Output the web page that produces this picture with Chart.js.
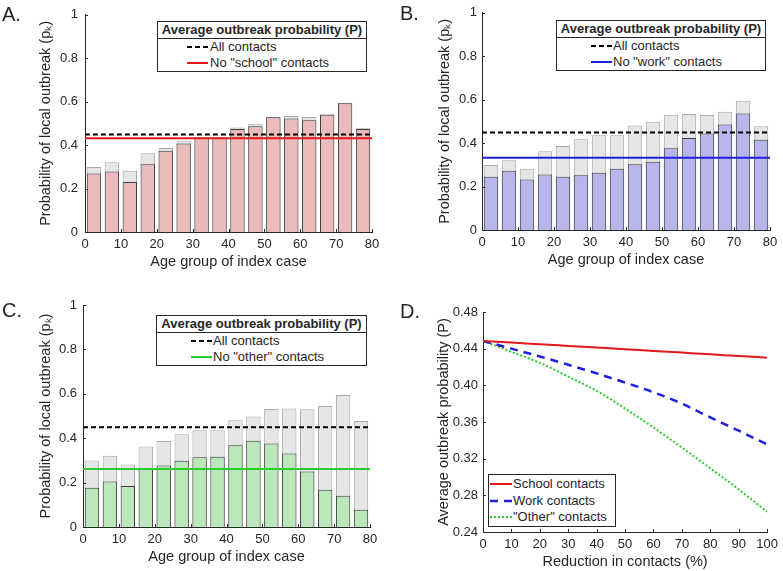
<!DOCTYPE html>
<html>
<head>
<meta charset="utf-8">
<script src="https://cdn.jsdelivr.net/npm/chart.js@4.4.0/dist/chart.umd.min.js"></script>
<style>
  body { margin: 0; background: #fff; font-family: "Liberation Sans", Arial, Helvetica, sans-serif; color: #262626; }
  #fig { position: relative; width: 783px; height: 571px; overflow: hidden; }
  #fig canvas { position: absolute; }
  .tag { position: absolute; font-size: 20px; line-height: 20px; }
  .lg { position: absolute; border: 1px solid #262626; background: #fff; font-size: 13px; box-sizing: border-box; }
  .lg .ttl { font-weight: bold; text-align: center; line-height: 16px; border-bottom: 1px solid #262626; }
  .lg .row { position: relative; height: 16px; line-height: 16px; white-space: nowrap; }
  .lg svg { position: absolute; top: 0; }
</style>
</head>
<body>
<div id="fig">
  <canvas id="chart-a" width="390" height="285" style="left:0;top:0"></canvas>
  <canvas id="chart-b" width="391" height="285" style="left:392px;top:0"></canvas>
  <canvas id="chart-c" width="390" height="286" style="left:0;top:285px"></canvas>
  <canvas id="chart-d" width="391" height="286" style="left:392px;top:285px"></canvas>

  <div class="tag" style="left:2px;top:4px">A.</div>
  <div class="tag" style="left:400px;top:3px">B.</div>
  <div class="tag" style="left:2px;top:300px">C.</div>
  <div class="tag" style="left:400px;top:301px">D.</div>

  <div class="lg" style="left:157px;top:21px;width:210px">
    <div class="ttl">Average outbreak probability (P)</div>
    <div class="row" style="padding-left:52px"><svg style="left:29px" width="21" height="16"><line x1="0" y1="8" x2="21" y2="8" stroke="#000" stroke-width="2" stroke-dasharray="5 3"/></svg>All contacts</div>
    <div class="row" style="padding-left:52px"><svg style="left:29px" width="21" height="16"><line x1="0" y1="8" x2="21" y2="8" stroke="#e31a1c" stroke-width="2"/></svg>No "school" contacts</div>
  </div>
  <div class="lg" style="left:556px;top:20px;width:210px">
    <div class="ttl">Average outbreak probability (P)</div>
    <div class="row" style="padding-left:56px"><svg style="left:34px" width="21" height="16"><line x1="0" y1="8" x2="21" y2="8" stroke="#000" stroke-width="2" stroke-dasharray="5 3"/></svg>All contacts</div>
    <div class="row" style="padding-left:56px"><svg style="left:34px" width="21" height="16"><line x1="0" y1="8" x2="21" y2="8" stroke="#1f1fe0" stroke-width="2"/></svg>No "work" contacts</div>
  </div>
  <div class="lg" style="left:156px;top:315px;width:211px">
    <div class="ttl">Average outbreak probability (P)</div>
    <div class="row" style="padding-left:56px"><svg style="left:34px" width="21" height="16"><line x1="0" y1="8" x2="21" y2="8" stroke="#000" stroke-width="2" stroke-dasharray="5 3"/></svg>All contacts</div>
    <div class="row" style="padding-left:56px"><svg style="left:34px" width="21" height="16"><line x1="0" y1="8" x2="21" y2="8" stroke="#2ccc2c" stroke-width="2"/></svg>No "other" contacts</div>
  </div>
  <div class="lg" style="left:488px;top:474px;width:128px;padding-top:1px">
    <div class="row" style="padding-left:24px;height:16.7px;line-height:16.7px"><svg style="left:1px" width="22" height="16"><line x1="0" y1="8" x2="22" y2="8" stroke="#e31a1c" stroke-width="2"/></svg>School contacts</div>
    <div class="row" style="padding-left:24px;height:16.7px;line-height:16.7px"><svg style="left:1px" width="22" height="16"><line x1="0" y1="8" x2="22" y2="8" stroke="#1f1fe0" stroke-width="2.5" stroke-dasharray="8 6"/></svg>Work contacts</div>
    <div class="row" style="padding-left:24px;height:16.7px;line-height:16.7px"><svg style="left:1px" width="22" height="16"><line x1="0" y1="8" x2="22" y2="8" stroke="#2ccc2c" stroke-width="2" stroke-dasharray="2 2"/></svg>"Other" contacts</div>
  </div>
</div>

<script>
// age groups of the index case (5-year bands)
const ageGroups = ['0-4', '5-9', '10-14', '15-19', '20-24', '25-29', '30-34', '35-39',
  '40-44', '45-49', '50-54', '55-59', '60-64', '65-69', '70-74', '75+'];
const ageTicks = [0, 10, 20, 30, 40, 50, 60, 70, 80];
const probTicks = [0, 0.2, 0.4, 0.6, 0.8, 1];

// p_k per age group
const pkAll = [0.299, 0.321, 0.282, 0.363, 0.387, 0.418, 0.436, 0.436, 0.481, 0.498, 0.531, 0.534, 0.530, 0.545, 0.595, 0.478];
const pkNoSchool = [0.269, 0.278, 0.230, 0.312, 0.374, 0.408, 0.434, 0.434, 0.474, 0.487, 0.528, 0.523, 0.514, 0.537, 0.593, 0.474];
const pkNoWork = [0.245, 0.273, 0.232, 0.255, 0.245, 0.252, 0.264, 0.282, 0.303, 0.314, 0.376, 0.423, 0.444, 0.486, 0.536, 0.415];
const pkNoOther = [0.177, 0.205, 0.185, 0.262, 0.277, 0.298, 0.314, 0.317, 0.368, 0.389, 0.376, 0.331, 0.250, 0.168, 0.141, 0.078];

// average outbreak probability P
const pAll = 0.449;
const pNoSchool = 0.432;
const pNoWork = 0.333;
const pNoOther = 0.261;

// panel D: P vs reduction in contacts
const reduction = [0, 10, 20, 30, 40, 50, 60, 70, 80, 90, 100];
const reductionTicks = [0, 10, 20, 30, 40, 50, 60, 70, 80, 90, 100];
const avgTicks = [0.24, 0.28, 0.32, 0.36, 0.40, 0.44, 0.48];
const pSchool = [0.4485, 0.4467, 0.4448, 0.4430, 0.4412, 0.4394, 0.4375, 0.4357, 0.4339, 0.4320, 0.4302];
const pWork = [0.4485, 0.4400, 0.4315, 0.4225, 0.4130, 0.4030, 0.3925, 0.3800, 0.3650, 0.3505, 0.3355];
const pOther = [0.4485, 0.4365, 0.4245, 0.4095, 0.3940, 0.3746, 0.3540, 0.3320, 0.3095, 0.2865, 0.2620];

const INK = '#262626';
const tickFont = { family: '"Liberation Sans", Arial, sans-serif', size: 13 };
const titleFont = { family: '"Liberation Sans", Arial, sans-serif', size: 14.5 };

// MATLAB style ticks pointing into the plot
const inwardTicks = {
  id: 'inwardTicks',
  afterDatasetsDraw(chart) {
    const { ctx, chartArea: a } = chart;
    ctx.save();
    ctx.strokeStyle = INK;
    ctx.lineWidth = 1;
    ctx.beginPath();
    Object.values(chart.scales).forEach(s => {
      if (!s.options.display) return;
      s.ticks.forEach(t => {
        const p = Math.round(s.getPixelForValue(t.value)) + 0.5;
        if (s.isHorizontal()) { ctx.moveTo(p, a.bottom); ctx.lineTo(p, a.bottom - 3); }
        else { ctx.moveTo(a.left, p); ctx.lineTo(a.left + 3, p); }
      });
    });
    ctx.stroke();
    ctx.restore();
  }
};

function setTicks(list) {
  return s => { s.ticks = list.map(v => ({ value: v })); };
}

const noGrid = { display: false, drawTicks: false };

function barPanel(id, g, values, avg, fill, lineColor) {
  new Chart(document.getElementById(id), {
    type: 'bar',
    data: {
      labels: ageGroups,
      datasets: [
        { type: 'line', xAxisID: 'x2', data: [{ x: 0, y: pAll }, { x: 80, y: pAll }],
          borderColor: '#000', borderWidth: 2, borderDash: [5, 3], pointRadius: 0, order: 0 },
        { type: 'line', xAxisID: 'x2', data: [{ x: 0, y: avg }, { x: 80, y: avg }],
          borderColor: lineColor, borderWidth: 2, pointRadius: 0, order: 0 },
        { data: values, backgroundColor: fill, borderColor: '#3c3c3c', borderWidth: 1,
          grouped: false, barPercentage: 0.8, categoryPercentage: 1, order: 1 },
        { data: pkAll, backgroundColor: '#e6e6e6', borderColor: '#a8a8a8', borderWidth: 1,
          grouped: false, barPercentage: 0.8, categoryPercentage: 1, order: 2 }
      ]
    },
    options: {
      responsive: false,
      animation: false,
      devicePixelRatio: 1,
      layout: { padding: { left: 0, top: g.top, right: g.right, bottom: 0 } },
      plugins: { legend: { display: false }, tooltip: { enabled: false } },
      scales: {
        x: { type: 'category', display: false, offset: true },
        x2: {
          type: 'linear', position: 'bottom', min: 0, max: 80, offset: false,
          afterBuildTicks: setTicks(ageTicks),
          afterFit: s => { s.height = g.xH; },
          grid: noGrid,
          border: { color: INK, width: 1 },
          ticks: { color: INK, font: tickFont, padding: 5, maxRotation: 0 },
          title: { display: true, text: 'Age group of index case', color: INK, font: titleFont,
                   padding: { top: 0, bottom: g.xTitlePad } }
        },
        y: {
          min: 0, max: 1,
          afterBuildTicks: setTicks(probTicks),
          afterFit: s => { s.width = g.left; },
          grid: noGrid,
          border: { color: INK, width: 1 },
          ticks: { color: INK, font: tickFont, padding: g.tickPad, callback: v => String(Math.round(v * 10) / 10) },
          title: { display: true, text: 'Probability of local outbreak (pₖ)', color: INK, font: titleFont,
                   padding: { top: g.yTitlePad, bottom: 0 } }
        }
      }
    },
    plugins: [inwardTicks]
  });
}

barPanel('chart-a', { left: 85, top: 12, right: 18, xH: 53, xTitlePad: 14.3, yTitlePad: 37.3, tickPad: 7 },
  pkNoSchool, pNoSchool, '#ebbaba', '#e31a1c');
barPanel('chart-b', { left: 90, top: 10, right: 13, xH: 55, xTitlePad: 16.3, yTitlePad: 44.3, tickPad: 5 },
  pkNoWork, pNoWork, '#b7b7eb', '#1f1fe0');
barPanel('chart-c', { left: 83, top: 20, right: 20, xH: 44, xTitlePad: 5.3, yTitlePad: 37.3, tickPad: 6 },
  pkNoOther, pNoOther, '#bbe8bb', '#2ccc2c');

function xy(ys) {
  return reduction.map((r, i) => ({ x: r, y: ys[i] }));
}

new Chart(document.getElementById('chart-d'), {
  type: 'line',
  data: {
    datasets: [
      { label: 'School contacts', data: xy(pSchool), borderColor: '#e31a1c', borderWidth: 2,
        pointRadius: 0, cubicInterpolationMode: 'monotone' },
      { label: 'Work contacts', data: xy(pWork), borderColor: '#1f1fe0', borderWidth: 2.5,
        borderDash: [8, 6], pointRadius: 0, cubicInterpolationMode: 'monotone' },
      { label: '"Other" contacts', data: xy(pOther), borderColor: '#2ccc2c', borderWidth: 2,
        borderDash: [2, 2], pointRadius: 0, cubicInterpolationMode: 'monotone' }
    ]
  },
  options: {
    responsive: false,
    animation: false,
    devicePixelRatio: 1,
    layout: { padding: { left: 0, top: 27, right: 12, bottom: 0 } },
    plugins: { legend: { display: false }, tooltip: { enabled: false } },
    scales: {
      x: {
        type: 'linear', min: 0, max: 100,
        afterBuildTicks: setTicks(reductionTicks),
        afterFit: s => { s.height = 39; },
        grid: noGrid,
        border: { color: INK, width: 1 },
        ticks: { color: INK, font: tickFont, padding: 5, maxRotation: 0 },
        title: { display: true, text: 'Reduction in contacts (%)', color: INK, font: titleFont,
                 padding: { top: 0, bottom: 0.3 } }
      },
      y: {
        min: 0.24, max: 0.48,
        afterBuildTicks: setTicks(avgTicks),
        afterFit: s => { s.width = 91; },
        grid: noGrid,
        border: { color: INK, width: 1 },
        ticks: { color: INK, font: tickFont, padding: 5, callback: v => v.toFixed(2) },
        title: { display: true, text: 'Average outbreak probability (P)', color: INK, font: titleFont,
                 padding: { top: 43.3, bottom: 0 } }
      }
    }
  },
  plugins: [inwardTicks]
});
</script>
</body>
</html>
